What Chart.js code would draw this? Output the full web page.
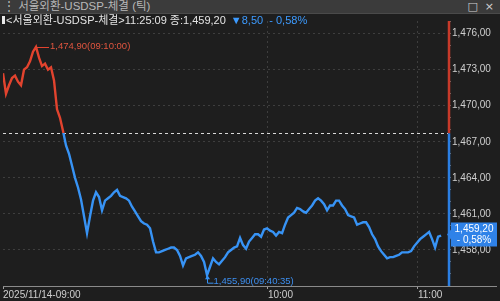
<!DOCTYPE html>
<html><head><meta charset="utf-8">
<script src="https://cdn.jsdelivr.net/npm/chart.js@4.4.1/dist/chart.umd.min.js"></script>
<style>
html,body{margin:0;padding:0;background:#1e1e1e;width:500px;height:301px;overflow:hidden;}
#titlebar{position:absolute;left:0;top:0;width:500px;height:13px;background:#3b3b3b;border-bottom:1px solid #4a4a4a;}
#ttl{position:absolute;left:3px;top:0px;font:11.5px "Liberation Sans","Noto Sans CJK KR",sans-serif;color:#b8b8b8;line-height:13px;white-space:nowrap;}
#icons{position:absolute;right:6px;top:0px;font:11px "DejaVu Sans",sans-serif;color:#d0d0d0;line-height:13px;}
#hdr{position:absolute;left:2px;top:14px;font:11px "Liberation Sans","Noto Sans CJK KR",sans-serif;line-height:13px;white-space:nowrap;z-index:2;}
#hdr .bar{display:inline-block;width:3px;height:8px;background:#e8e8e8;margin-right:1px;vertical-align:-0px;}
#hdr .w{color:#e4e4e4;}
#hdr .b{color:#3d9bff;margin-left:5px;}
#wrap{position:absolute;left:0;top:14px;width:500px;height:287px;}
</style></head><body>
<div id="titlebar"><span id="ttl">⋮ 서울외환-USDSP-체결 (틱)</span><span id="icons">□&nbsp;&nbsp;×</span></div>
<div id="hdr"><span class="bar"></span><span class="w">&lt;서울외환-USDSP-체결&gt;11:25:09 종:1,459,20</span><span class="b">▼8,50 &nbsp;- 0,58%</span></div>
<div id="wrap"><canvas id="c" width="500" height="287"></canvas></div>
<script>
// ---- data ----
const prices = [
1472.7,1471.0,1471.7,1472.3,1472.5,1472.0,1471.7,1473.0,1473.2,1473.7,
1474.5,1474.9,1474.0,1473.3,1473.5,1473.0,1473.2,1472.1,1469.7,1469.0,
1467.9,1466.7,1466.0,1465.0,1464.0,1463.2,1462.2,1460.8,1459.4,1460.8,
1462.1,1462.8,1462.4,1461.3,1462.1,1462.3,1462.5,1462.8,1463.0,1462.5,
1462.4,1462.3,1462.1,1461.6,1461.2,1460.8,1460.4,1460.2,1460.1,1459.8,
1458.7,1457.8,1457.8,1457.9,1458.0,1458.1,1458.2,1458.2,1458.0,1457.5,
1456.7,1457.3,1457.4,1457.5,1457.6,1457.8,1457.5,1457.0,1455.9,1456.6,
1457.3,1457.0,1456.8,1457.1,1457.4,1457.8,1458.0,1458.2,1458.3,1459.0,
1458.4,1458.1,1458.7,1459.0,1459.3,1459.3,1459.1,1459.7,1459.8,1459.6,
1459.5,1459.2,1459.5,1459.4,1460.1,1460.7,1460.9,1461.1,1461.5,1461.4,
1461.2,1461.1,1461.4,1461.7,1462.1,1462.3,1462.1,1461.8,1461.3,1461.7,
1461.7,1462.1,1462.1,1461.7,1461.4,1460.9,1460.8,1460.7,1460.1,1460.2,
1460.3,1460.3,1459.9,1459.3,1458.9,1458.3,1457.9,1457.6,1457.3,1457.4,
1457.4,1457.5,1457.6,1457.8,1457.8,1457.8,1457.9,1458.3,1458.6,1458.9,
1459.1,1459.3,1459.5,1458.9,1458.2,1459.1,1459.2];
const xTickIdx = [0, 88.3, 138.3];
const xTickLabels = ['2025/11/14-09:00', '10:00', '11:00'];
const yTickStep = 3;
const lastPrice = 1459.20;
const change = -8.50;
const changePct = '- 0,58%';
const highTime = '(09:10:00)';
const lowTime = '(09:40:35)';
const prevClose = lastPrice - change;

const RED = '#e2432e', BLUE = '#3793f5';
const AX_RED = '#c83a2a', AX_BLUE = '#2b7fe3';

function fmt(v){
  let [a,b] = v.toFixed(2).split('.');
  a = a.replace(/\B(?=(\d{3})+(?!\d))/g, ',');
  return a + ',' + b;
}
function labeled(v){ const r = Math.round(v); return Math.abs(v-r)<1e-6 && r % yTickStep === 0 && r > 1455 && r < 1477; }

const pts = prices.map((p,i)=>({x:i, y:p}));

const overlay = {
  id:'overlay',
  beforeDatasetsDraw(chart){
    const {ctx, chartArea:a, scales:{y}} = chart;
    const py = Math.round(y.getPixelForValue(prevClose)) + 0.5;
    ctx.save();
    ctx.strokeStyle = '#d8d8d8'; ctx.lineWidth = 1; ctx.setLineDash([3,3]);
    ctx.beginPath(); ctx.moveTo(a.left, py); ctx.lineTo(a.right, py); ctx.stroke();
    ctx.restore();
  },
  afterDatasetsDraw(chart){
    const {ctx, chartArea:a, scales:{x,y}} = chart;
    ctx.save();
    ctx.strokeStyle = '#8a8a8a'; ctx.lineWidth = 1;
    ctx.beginPath(); ctx.moveTo(a.left, a.bottom+0.5); ctx.lineTo(497, a.bottom+0.5); ctx.stroke();
    const py = y.getPixelForValue(prevClose);
    ctx.lineWidth = 2.5;
    ctx.strokeStyle = AX_RED;
    ctx.beginPath(); ctx.moveTo(a.right+1, a.top); ctx.lineTo(a.right+1, py); ctx.stroke();
    ctx.strokeStyle = AX_BLUE;
    ctx.beginPath(); ctx.moveTo(a.right+1, py); ctx.lineTo(a.right+1, a.bottom); ctx.stroke();
    let hi = 0, lo = 0;
    prices.forEach((p,i)=>{ if(p>prices[hi]) hi=i; if(p<prices[lo]) lo=i; });
    const hx = x.getPixelForValue(hi), hy = y.getPixelForValue(prices[hi]);
    ctx.strokeStyle = RED; ctx.lineWidth = 1;
    ctx.beginPath(); ctx.moveTo(hx+1, Math.round(hy)+0.5); ctx.lineTo(hx+13, Math.round(hy)+0.5); ctx.stroke();
    ctx.fillStyle = '#e0553f'; ctx.font = '9.5px "Liberation Sans", sans-serif';
    ctx.textBaseline = 'middle'; ctx.textAlign = 'left';
    ctx.fillText(fmt(prices[hi]) + highTime, hx+14, hy);
    const lx = Math.round(x.getPixelForValue(lo))+0.5, ly = y.getPixelForValue(prices[lo]);
    ctx.strokeStyle = BLUE; ctx.fillStyle = BLUE;
    ctx.beginPath(); ctx.moveTo(lx, ly+1); ctx.lineTo(lx, ly+8); ctx.lineTo(lx+6, ly+8); ctx.stroke();
    ctx.beginPath(); ctx.moveTo(lx, ly); ctx.lineTo(lx-2.5, ly+4); ctx.lineTo(lx+2.5, ly+4); ctx.closePath(); ctx.fill();
    ctx.fillStyle = '#3d8ff0';
    ctx.fillText(fmt(prices[lo]) + lowTime, lx+6, ly+6);
    const ey = y.getPixelForValue(lastPrice) - 1;
    const bx = a.right + 3, bw = 46, bh = 24;
    ctx.fillStyle = '#2f82e8';
    ctx.beginPath();
    ctx.moveTo(a.right-1, ey);
    ctx.lineTo(bx, ey-5); ctx.lineTo(bx, ey-bh/2); ctx.lineTo(bx+bw, ey-bh/2);
    ctx.lineTo(bx+bw, ey+bh/2); ctx.lineTo(bx, ey+bh/2); ctx.lineTo(bx, ey+5); ctx.closePath(); ctx.fill();
    ctx.fillStyle = '#ffffff'; ctx.font = '10px "Liberation Sans", sans-serif'; ctx.textAlign = 'center';
    ctx.fillText(fmt(lastPrice), bx+bw/2, ey-5);
    ctx.fillText(changePct, bx+bw/2, ey+6);
    ctx.restore();
  }
};

new Chart(document.getElementById('c'), {
  type:'line',
  data:{ datasets:[{
    data: pts,
    borderWidth: 2.4,
    pointRadius: 0,
    tension: 0,
    borderColor(ctx){
      const ch = ctx.chart; const a = ch.chartArea;
      if(!a) return RED;
      const py = ch.scales.y.getPixelForValue(prevClose);
      const t = Math.min(1, Math.max(0, (py - a.top)/(a.bottom - a.top)));
      const g = ch.ctx.createLinearGradient(0, a.top, 0, a.bottom);
      g.addColorStop(0, RED); g.addColorStop(t, RED); g.addColorStop(t, BLUE); g.addColorStop(1, BLUE);
      return g;
    }
  }]},
  options:{
    responsive:false, animation:false, devicePixelRatio:1,
    layout:{padding:{left:3, top:0, right:0, bottom:0}},
    plugins:{legend:{display:false}, tooltip:{enabled:false}},
    scales:{
      x:{
        type:'linear', min:0, max:148.3,
        afterBuildTicks(s){ s.ticks = xTickIdx.map(v=>({value:v})); },
        afterFit(s){ s.height = 15; },
        ticks:{ autoSkip:false, maxRotation:0, align:'start', padding:0,
          color:'#cfcfcf', font:{family:'Liberation Sans', size:10},
          callback(v, i){ return xTickLabels[i]; } },
        grid:{ drawOnChartArea:true, tickLength:3, tickColor:'#a0a0a0',
          color(c){ return (c.index===0) ? 'rgba(0,0,0,0)' : '#3e3e3e'; } },
        border:{ display:false, dash:[2,3] }
      },
      y:{
        type:'linear', position:'right', min:1455.0, max:1477.05,
        afterBuildTicks(s){ const t=[]; for(let v=1455; v<=1477; v++) t.push({value:v}); s.ticks=t; },
        afterFit(s){ s.width = 52; },
        ticks:{ autoSkip:false, padding:1, color:'#cfcfcf', font:{family:'Liberation Sans', size:10},
          callback(v){ return labeled(v) ? fmt(v) : ''; } },
        grid:{ tickLength:3, tickColor:'#6a6a6a',
          color(c){ return (c.tick && labeled(c.tick.value)) ? '#3e3e3e' : 'rgba(0,0,0,0)'; } },
        border:{ display:false, dash:[2,3] }
      }
    }
  },
  plugins:[overlay]
});
</script>
</body></html>
